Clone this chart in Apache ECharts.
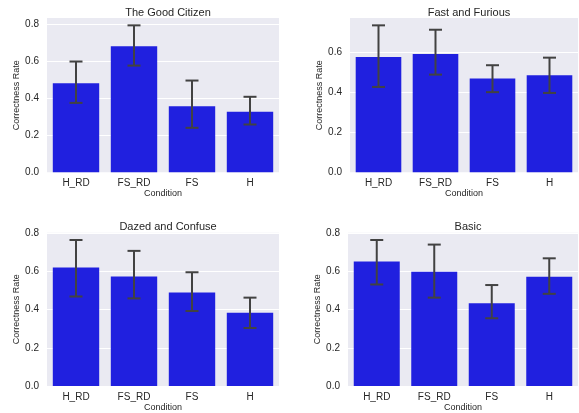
<!DOCTYPE html>
<html><head><meta charset="utf-8">
<script src="https://cdn.jsdelivr.net/npm/echarts@6/dist/echarts.min.js"></script>
<style>html,body{margin:0;padding:0;background:#fff}#c{width:579px;height:413px}</style>
</head><body><div id="c"></div>
<script>
const categories = ['H_RD', 'FS_RD', 'FS', 'H'];
const titles = ['The Good Citizen', 'Fast and Furious', 'Dazed and Confuse', 'Basic'];
const means = [
  [0.483, 0.683, 0.358, 0.328],
  [0.578, 0.593, 0.470, 0.487],
  [0.621, 0.574, 0.490, 0.384],
  [0.652, 0.598, 0.433, 0.572]
];
const lows = [
  [0.376, 0.578, 0.241, 0.259],
  [0.428, 0.490, 0.402, 0.398],
  [0.469, 0.459, 0.393, 0.304],
  [0.532, 0.463, 0.355, 0.483]
];
const highs = [
  [0.600, 0.796, 0.497, 0.409],
  [0.737, 0.715, 0.537, 0.575],
  [0.765, 0.708, 0.596, 0.463],
  [0.765, 0.741, 0.529, 0.669]
];
const yTicks = [0, 0.2, 0.4, 0.6, 0.8];

const grids = [
  {left: 47, width: 232, top: 18, height: 154.3},
  {left: 350, width: 228, top: 18, height: 154.3},
  {left: 47, width: 232, top: 232.7, height: 154},
  {left: 348, width: 230, top: 232.7, height: 154}
];
const font = 'Liberation Sans, Arial, sans-serif';
const txt = '#262626';
const opt = {animation: false, title: [], grid: [], xAxis: [], yAxis: [], series: []};
for (let i = 0; i < 4; i++) {
  const g = grids[i];
  const ymax = Math.max(...highs[i]) * 1.05;
  opt.grid.push(Object.assign({show: true, backgroundColor: '#eaeaf2', borderWidth: 0, containLabel: false}, g));
  opt.title.push({text: titles[i], left: g.left + g.width / 2, top: g.top - 16, textAlign: 'center',
    textStyle: {fontFamily: font, fontSize: 11, fontWeight: 'normal', color: txt}});
  opt.xAxis.push({type: 'category', gridIndex: i, data: categories,
    axisLine: {show: false}, axisTick: {show: false},
    axisLabel: {color: txt, fontFamily: font, fontSize: 10, margin: 6},
    name: 'Condition', nameLocation: 'middle', nameGap: 17,
    nameTextStyle: {color: txt, fontFamily: font, fontSize: 9}});
  opt.yAxis.push({type: 'value', gridIndex: i, min: 0, max: ymax, interval: 0.2,
    axisLine: {show: false}, axisTick: {show: false},
    splitLine: {show: true, showMaxLine: false, showMinLine: false, lineStyle: {color: '#ffffff', width: 1}},
    axisLabel: {color: txt, fontFamily: font, fontSize: 10, margin: 8,
      formatter: v => (yTicks.some(t => Math.abs(t - v) < 1e-6) ? v.toFixed(1) : '')},
    name: 'Correctness Rate', nameLocation: 'middle', nameGap: 24,
    nameTextStyle: {color: txt, fontFamily: font, fontSize: 9}});
  opt.series.push({type: 'bar', xAxisIndex: i, yAxisIndex: i, data: means[i],
    barCategoryGap: '20%', itemStyle: {color: '#2020df'}});
  opt.series.push({type: 'custom', xAxisIndex: i, yAxisIndex: i,
    data: categories.map((c, k) => [k, lows[i][k], highs[i][k]]),
    renderItem: function (params, api) {
      const lo = api.coord([api.value(0), api.value(1)]);
      const hi = api.coord([api.value(0), api.value(2)]);
      const hw = 6.5;
      const st = {stroke: '#424242', lineWidth: 2};
      return {type: 'group', children: [
        {type: 'line', shape: {x1: lo[0], y1: lo[1], x2: hi[0], y2: hi[1]}, style: st},
        {type: 'line', shape: {x1: lo[0] - hw, y1: lo[1], x2: lo[0] + hw, y2: lo[1]}, style: st},
        {type: 'line', shape: {x1: hi[0] - hw, y1: hi[1], x2: hi[0] + hw, y2: hi[1]}, style: st}
      ]};
    }, z: 5});
}
const chart = echarts.init(document.getElementById('c'), null, {renderer: 'canvas'});
chart.setOption(opt);
</script></body></html>
